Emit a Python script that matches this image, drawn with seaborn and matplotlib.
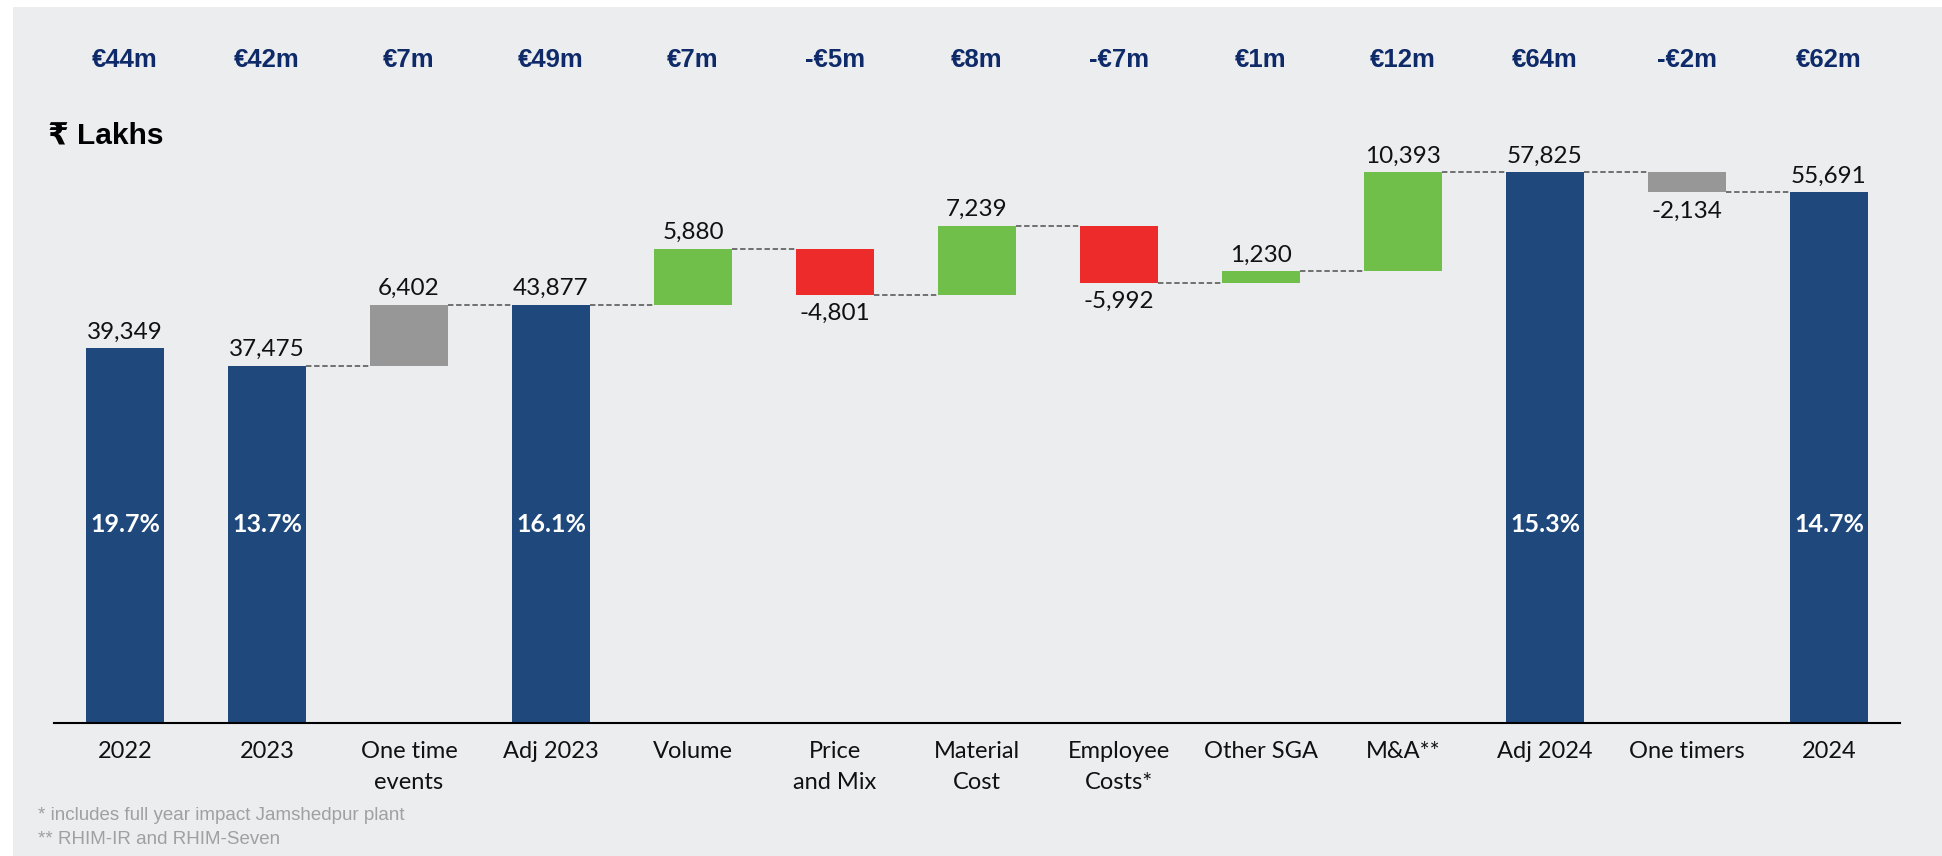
import numpy as np
import pandas as pd
import matplotlib
matplotlib.use("Agg")
import matplotlib.pyplot as plt
import matplotlib.transforms as mtransforms
from matplotlib.patches import Rectangle
import seaborn as sns

sns.set_theme(style="white")
plt.rcParams['font.family'] = ['Lato', 'DejaVu Sans']

# EBITDA bridge, values in Rs lakhs
categories = ['2022', '2023', 'One time\nevents', 'Adj 2023', 'Volume', 'Price\nand Mix',
              'Material\nCost', 'Employee\nCosts*', 'Other SGA', 'M&A**', 'Adj 2024',
              'One timers', '2024']
values = [39349, 37475, 6402, 43877, 5880, -4801, 7239, -5992, 1230, 10393, 57825, -2134, 55691]
kinds = ['total', 'total', 'onetime', 'total', 'delta', 'delta', 'delta', 'delta', 'delta',
         'delta', 'total', 'onetime', 'total']
eur_labels = ['€44m', '€42m', '€7m', '€49m', '€7m', '-€5m', '€8m', '-€7m', '€1m', '€12m',
              '€64m', '-€2m', '€62m']
margins = ['19.7%', '13.7%', '', '16.1%', '', '', '', '', '', '', '15.3%', '', '14.7%']

NAVY = '#1F497C'
GREEN = '#70BF4B'
RED = '#EE2B2B'
GREY = '#979797'
PANEL = '#ECEDEF'

# running levels for the floating bars
bottoms, heights, levels = [], [], []
level = 0
for v, k in zip(values, kinds):
    if k == 'total':
        bottoms.append(0)
        heights.append(v)
        level = v
    else:
        bottoms.append(min(level, level + v))
        heights.append(abs(v))
        level = level + v
    levels.append(level)

colors = []
for v, k in zip(values, kinds):
    if k == 'total':
        colors.append(NAVY)
    elif k == 'onetime':
        colors.append(GREY)
    else:
        colors.append(GREEN if v > 0 else RED)

df = pd.DataFrame({'cat': categories, 'height': heights})

fig = plt.figure(figsize=(19.42, 8.56), dpi=100, facecolor='white')
fig.patches.append(Rectangle((13 / 1942, 0), 1, 1 - 7 / 856, transform=fig.transFigure,
                             facecolor=PANEL, edgecolor='none', zorder=-10))
ax = fig.add_axes([54 / 1942, 1 - 723 / 856, 1846 / 1942, 629 / 856])
ax.set_facecolor('none')

bw = 0.556
sns.barplot(data=df, x='cat', y='height', order=categories, bottom=bottoms, width=bw,
            color=NAVY, saturation=1, ax=ax, errorbar=None)
for p, c in zip(ax.patches, colors):
    p.set_facecolor(c)
    p.set_edgecolor('none')

ax.set_xlim(-0.5, 12.5)
ax.set_ylim(0, 66000)

# dashed connectors
for i in range(1, len(values) - 1):
    ax.plot([i + bw / 2, i + 1 - bw / 2], [levels[i], levels[i]], ls=(0, (3, 1.5)),
            color='#666666', lw=1.3, zorder=1)

# value labels
for i, (v, k) in enumerate(zip(values, kinds)):
    txt = f'{v:,}'
    if k != 'total' and v < 0:
        ax.annotate(txt, (i, bottoms[i]), xytext=(0, -6), textcoords='offset points',
                    ha='center', va='top', fontsize=17.5, color='#111111')
    else:
        ax.annotate(txt, (i, bottoms[i] + heights[i]), xytext=(0, 4), textcoords='offset points',
                    ha='center', va='bottom', fontsize=17.5, color='#111111')

# margin labels inside the total bars
for i, m in enumerate(margins):
    if m:
        ax.text(i, 20800, m, ha='center', va='center', fontsize=18, color='white',
                fontweight='bold')

# euro labels on top row
trans = mtransforms.blended_transform_factory(ax.transData, fig.transFigure)
for i, e in enumerate(eur_labels):
    ax.text(i, 1 - 60 / 856, e, transform=trans, ha='center', va='center', fontsize=18.5,
            fontweight='bold', color='#0E2A69', family=['Liberation Sans', 'DejaVu Sans'])

fig.text(48 / 1942, 1 - 135 / 856, '₹ Lakhs', ha='left', va='center', fontsize=21.5,
         fontweight='bold', color='black', family=['Liberation Sans', 'DejaVu Sans'])

for s in ['top', 'right', 'left']:
    ax.spines[s].set_visible(False)
ax.spines['bottom'].set_color('black')
ax.spines['bottom'].set_linewidth(1.5)
ax.set_yticks([])
ax.set_xlabel('')
ax.set_ylabel('')
ax.tick_params(axis='x', length=0, pad=13, labelsize=17, labelcolor='#111111')
for lbl in ax.get_xticklabels():
    lbl.set_linespacing(1.6)

fig.text(38 / 1942, 1 - 816 / 856, '* includes full year impact Jamshedpur plant', ha='left',
         va='center', fontsize=13.5, color='#A0A0A0', family=['Liberation Sans', 'DejaVu Sans'])
fig.text(38 / 1942, 1 - 839 / 856, '** RHIM-IR and RHIM-Seven', ha='left',
         va='center', fontsize=13.5, color='#A0A0A0', family=['Liberation Sans', 'DejaVu Sans'])

fig.savefig('out.png', dpi=100, facecolor=fig.get_facecolor())
